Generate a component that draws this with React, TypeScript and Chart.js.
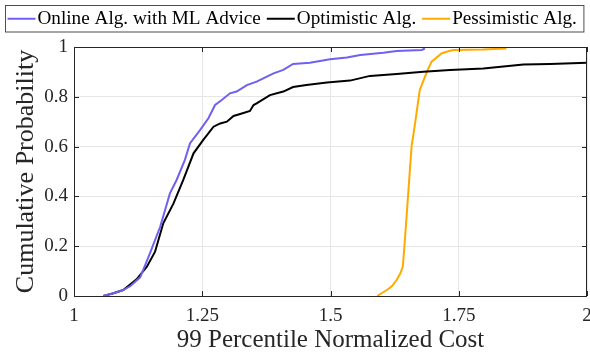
import { useEffect, useRef } from "react";
import { Chart, registerables } from "chart.js";

Chart.register(...registerables);

// Online algorithm with ML advice (purple)
const ML_COST = [1.057, 1.077, 1.096, 1.110, 1.129, 1.148, 1.168, 1.187, 1.200, 1.216, 1.226, 1.246, 1.262, 1.275, 1.288, 1.304, 1.317, 1.337, 1.356, 1.376, 1.389, 1.408, 1.427, 1.460, 1.499, 1.532, 1.558, 1.603, 1.629, 1.678, 1.684];
const ML_PROB = [0, 0.011, 0.024, 0.040, 0.075, 0.171, 0.278, 0.412, 0.466, 0.546, 0.613, 0.667, 0.714, 0.767, 0.787, 0.814, 0.821, 0.847, 0.861, 0.881, 0.894, 0.908, 0.932, 0.937, 0.951, 0.958, 0.968, 0.977, 0.984, 0.988, 0.994];

// Optimistic algorithm (black)
const OPT_COST = [1.057, 1.077, 1.096, 1.122, 1.142, 1.158, 1.174, 1.194, 1.213, 1.233, 1.252, 1.272, 1.285, 1.298, 1.311, 1.324, 1.343, 1.350, 1.356, 1.382, 1.408, 1.427, 1.453, 1.493, 1.538, 1.577, 1.629, 1.681, 1.733, 1.798, 1.876, 1.928, 2.0];
const OPT_PROB = [0, 0.011, 0.024, 0.067, 0.118, 0.178, 0.292, 0.372, 0.466, 0.573, 0.627, 0.680, 0.693, 0.700, 0.723, 0.731, 0.743, 0.767, 0.774, 0.807, 0.821, 0.839, 0.847, 0.857, 0.865, 0.884, 0.892, 0.901, 0.908, 0.914, 0.930, 0.932, 0.937];

// Pessimistic algorithm (orange)
const PES_COST = [1.591, 1.598, 1.610, 1.620, 1.629, 1.636, 1.641, 1.645, 1.652, 1.658, 1.663, 1.674, 1.688, 1.697, 1.717, 1.733, 1.740, 1.797, 1.843];
const PES_PROB = [0, 0.009, 0.024, 0.040, 0.064, 0.090, 0.118, 0.225, 0.426, 0.600, 0.667, 0.827, 0.901, 0.941, 0.975, 0.985, 0.988, 0.990, 0.994];

const SERIES_LABELS = ["Online Alg. with ML Advice", "Optimistic Alg.", "Pessimistic Alg."];
const SERIES_COLORS = ["#7060f0", "#000000", "#ffaa00"];

const X_TICKS = [1, 1.25, 1.5, 1.75, 2];
const Y_TICKS = [0, 0.2, 0.4, 0.6, 0.8, 1];
const X_TITLE = "99 Percentile Normalized Cost";
const Y_TITLE = "Cumulative Probability";

const FONT = "'Liberation Serif', 'Times New Roman', serif";

const toPoints = (xs: number[], ys: number[]) => xs.map((x, i) => ({ x, y: ys[i] }));

const framePlugin = {
  id: "frame",
  afterDraw(chart: any) {
    const { ctx, chartArea: a, scales } = chart;
    ctx.save();
    ctx.strokeStyle = "#262626";
    ctx.lineWidth = 1;
    ctx.strokeRect(Math.round(a.left) + 0.5, Math.round(a.top) + 0.5, Math.round(a.right - a.left) - 1, Math.round(a.bottom - a.top));
    const tl = 5;
    ctx.beginPath();
    X_TICKS.forEach((v) => {
      const px = Math.round(scales.x.getPixelForValue(v)) + 0.5;
      ctx.moveTo(px, a.bottom);
      ctx.lineTo(px, a.bottom - tl);
      ctx.moveTo(px, a.top);
      ctx.lineTo(px, a.top + tl);
    });
    Y_TICKS.forEach((v) => {
      const py = Math.round(scales.y.getPixelForValue(v)) + 0.5;
      ctx.moveTo(a.left, py);
      ctx.lineTo(a.left + tl, py);
      ctx.moveTo(a.right, py);
      ctx.lineTo(a.right - tl, py);
    });
    ctx.stroke();
    ctx.restore();
  },
};

const legendPlugin = {
  id: "boxLegend",
  afterDraw(chart: any) {
    const { ctx } = chart;
    ctx.save();
    ctx.font = `19.2px ${FONT}`;
    ctx.textBaseline = "middle";
    const boxL = 5.5, boxT = 5.5, boxH = 26.5;
    const cy = boxT + boxH / 2;
    let x = boxL + 2;
    const items: any[] = [];
    chart.data.datasets.forEach((ds: any) => {
      const w = ctx.measureText(ds.label).width;
      items.push({ x, w, ds });
      x += 28 + 2 + w + 6;
    });
    const boxR = x + 1;
    ctx.fillStyle = "#ffffff";
    ctx.fillRect(boxL, boxT, boxR - boxL, boxH);
    ctx.strokeStyle = "#4d4d4d";
    ctx.lineWidth = 1;
    ctx.strokeRect(boxL, boxT, boxR - boxL, boxH);
    items.forEach(({ x: ix, ds }) => {
      ctx.strokeStyle = ds.borderColor;
      ctx.lineWidth = 2;
      ctx.beginPath();
      ctx.moveTo(ix, cy);
      ctx.lineTo(ix + 28, cy);
      ctx.stroke();
      ctx.fillStyle = "#000000";
      ctx.fillText(ds.label, ix + 30, cy + 0.5);
    });
    ctx.restore();
  },
};

export default function App() {
  const ref = useRef<HTMLCanvasElement | null>(null);

  useEffect(() => {
    if (!ref.current) return;
    const chart = new Chart(ref.current, {
      type: "line",
      data: {
        datasets: [
          { label: SERIES_LABELS[0], data: toPoints(ML_COST, ML_PROB), borderColor: SERIES_COLORS[0], borderWidth: 2, pointRadius: 0, tension: 0, fill: false },
          { label: SERIES_LABELS[1], data: toPoints(OPT_COST, OPT_PROB), borderColor: SERIES_COLORS[1], borderWidth: 2, pointRadius: 0, tension: 0, fill: false },
          { label: SERIES_LABELS[2], data: toPoints(PES_COST, PES_PROB), borderColor: SERIES_COLORS[2], borderWidth: 2, pointRadius: 0, tension: 0, fill: false },
        ],
      },
      options: {
        animation: false,
        responsive: false,
        events: [],
        layout: { padding: { left: 0, right: 3, top: 47, bottom: 0 } },
        plugins: { legend: { display: false }, tooltip: { enabled: false } },
        scales: {
          x: {
            type: "linear",
            min: 1,
            max: 2,
            afterBuildTicks: (s: any) => { s.ticks = X_TICKS.map((v) => ({ value: v })); },
            afterFit: (s: any) => { s.height = 58; s.paddingLeft = 0; s.paddingRight = 0; },
            ticks: { font: { family: FONT, size: 19 }, color: "#262626", padding: 9, maxRotation: 0, autoSkip: false, callback: (v: any) => String(v) },
            grid: { color: "#e6e6e6", drawTicks: false },
            border: { display: false },
            title: { display: true, text: X_TITLE, font: { family: FONT, size: 25, lineHeight: 1 }, color: "#262626", padding: { top: 0, bottom: 1 } },
          },
          y: {
            type: "linear",
            min: 0,
            max: 1,
            afterBuildTicks: (s: any) => { s.ticks = Y_TICKS.map((v) => ({ value: v })); },
            afterFit: (s: any) => { s.width = 74; s.paddingTop = 0; s.paddingBottom = 0; },
            ticks: { font: { family: FONT, size: 19 }, color: "#262626", padding: 6, autoSkip: false, callback: (v: any) => String(v) },
            grid: { color: "#e6e6e6", drawTicks: false },
            border: { display: false },
            title: { display: true, text: Y_TITLE, font: { family: FONT, size: 26, lineHeight: 1 }, color: "#262626", padding: { top: 13, bottom: 0 } },
          },
        },
      },
      plugins: [framePlugin, legendPlugin],
    });
    return () => chart.destroy();
  }, []);

  return (
    <div style={{ position: "absolute", left: 0, top: 0, width: 590, height: 354, background: "#ffffff" }}>
      <canvas ref={ref} width={590} height={354} style={{ display: "block" }} />
    </div>
  );
}
